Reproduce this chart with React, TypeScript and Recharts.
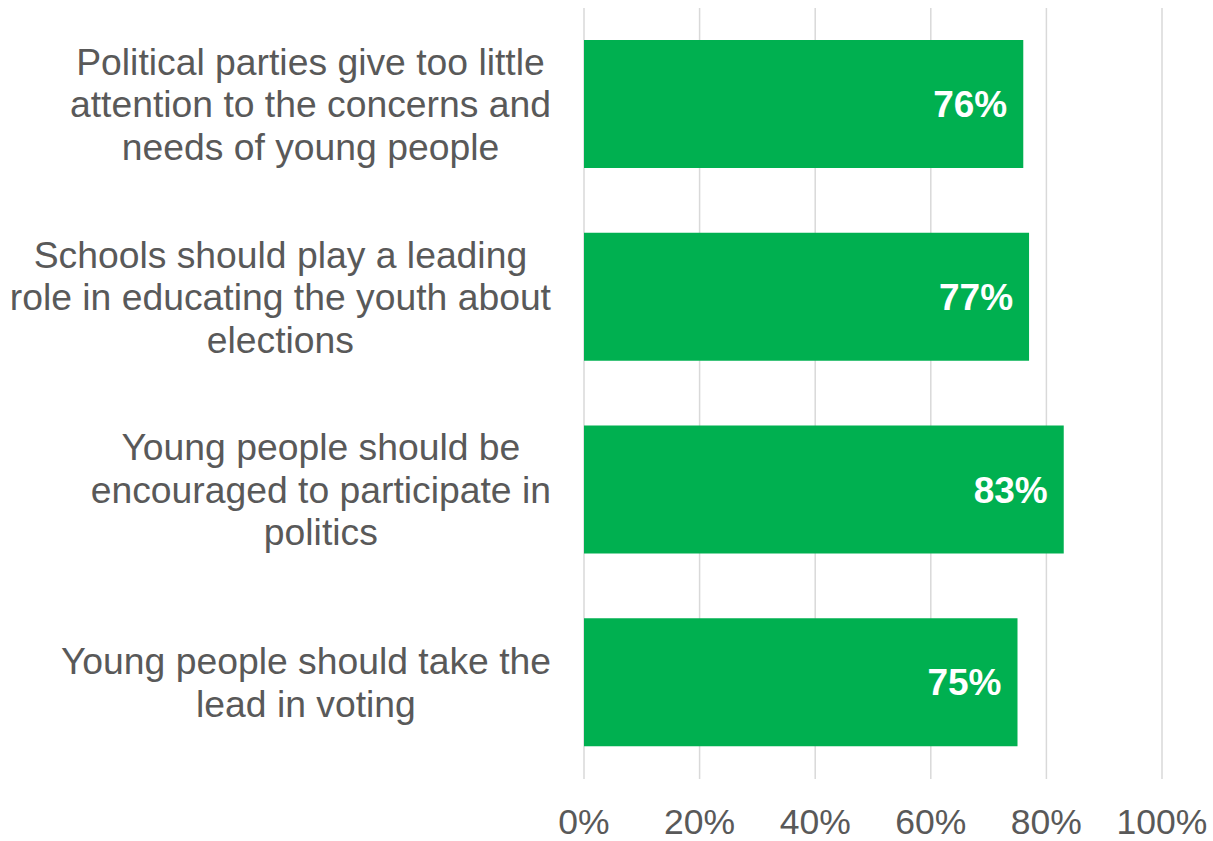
import React from 'react';
import { BarChart, Bar, XAxis, YAxis, CartesianGrid, LabelList } from 'recharts';

const statements = [
  'Political parties give too little\nattention to the concerns and\nneeds of young people',
  'Schools should play a leading\nrole in educating the youth about\nelections',
  'Young people should be\nencouraged to participate in\npolitics',
  'Young people should take the\nlead in voting',
];
const agreeShare = [76, 77, 83, 75];
const pctTicks = [0, 20, 40, 60, 80, 100];

const FONT = '"Liberation Sans", Arial, sans-serif';
const TEXT = '#595959';
const CAT_SIZE = 37.3;

const data = statements.map((s, i) => ({ name: s, value: agreeShare[i] }));

let ctx: CanvasRenderingContext2D | null = null;
function measure(t: string) {
  if (!ctx) ctx = document.createElement('canvas').getContext('2d');
  if (!ctx) return t.length * 18;
  ctx.font = `${CAT_SIZE}px ${FONT}`;
  return ctx.measureText(t).width;
}

// wrapped label block, widest line right-aligned near the axis
function StatementTick(props: any) {
  const { x, y, payload } = props;
  const lines: string[] = String(payload.value).split('\n');
  const widest = Math.max(...lines.map(measure));
  const cx = x - widest / 2;
  const lh = 42.5;
  const startY = y - ((lines.length - 1) * lh) / 2;
  return (
    <text x={cx} y={startY} textAnchor="middle" fill={TEXT} fontSize={CAT_SIZE} fontFamily={FONT}>
      {lines.map((l, i) => (
        <tspan key={i} x={cx} y={startY + i * lh} dy="0.35em">{l}</tspan>
      ))}
    </text>
  );
}

export default function App() {
  return (
    <div>
      <style>{`body{margin:0}`}</style>
      <BarChart
        width={1213}
        height={841}
        data={data}
        layout="vertical"
        margin={{ top: 8, right: 51, left: 0, bottom: 0 }}
        barSize={128}
      >
        <CartesianGrid horizontal={false} stroke="#d9d9d9" strokeWidth={1.5} />
        <XAxis
          type="number"
          domain={[0, 100]}
          ticks={pctTicks}
          tickFormatter={(v) => `${v}%`}
          axisLine={false}
          tickLine={false}
          tickSize={0}
          tickMargin={30}
          height={62}
          interval={0}
          tick={{ fill: TEXT, fontSize: 35.5, fontFamily: FONT }}
        />
        <YAxis
          type="category"
          dataKey="name"
          width={584}
          axisLine={false}
          tickLine={false}
          tickSize={0}
          tickMargin={33}
          interval={0}
          tick={<StatementTick />}
        />
        <Bar dataKey="value" fill="#00B050" isAnimationActive={false}>
          <LabelList
            dataKey="value"
            position="insideRight"
            offset={16}
            formatter={(v: any) => `${v}%`}
            fill="#ffffff"
            fontSize={37}
            fontWeight="bold"
            fontFamily={FONT}
          />
        </Bar>
      </BarChart>
    </div>
  );
}
